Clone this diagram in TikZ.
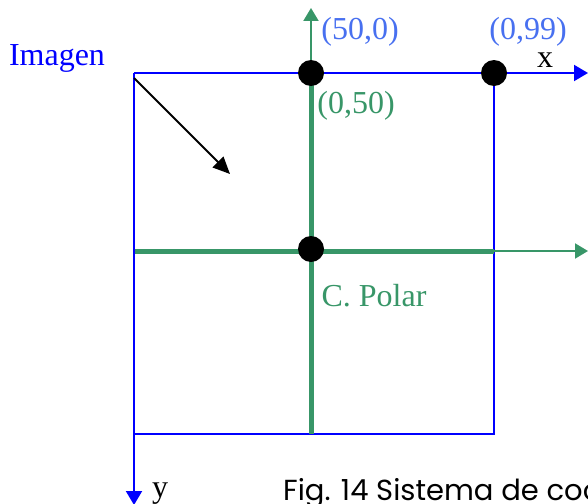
\documentclass[tikz,border=0pt]{standalone}
\usepackage{fontspec}
\setmainfont{Liberation Serif}
\newfontfamily\figfont{Poppins}
\usetikzlibrary{arrows.meta,positioning}
\definecolor{polargreen}{RGB}{56,150,104}
\definecolor{labelblue}{RGB}{72,112,240}
\begin{document}
\begin{tikzpicture}[x=1pt,y=-1pt,
dot/.style={circle,fill=black,inner sep=0pt,minimum size=26pt},
frame/.style={blue,line width=2pt},
axis/.style={blue,line width=2pt,-{Triangle[length=14pt,width=16pt]}},
polar/.style={polargreen,line width=5pt},
polaraxis/.style={polargreen,line width=2pt,-{Triangle[length=13pt,width=15pt]}},
lbl/.style={font=\fontsize{32}{32}\selectfont,inner sep=0pt}]
\path[use as bounding box,clip] (0,0) rectangle (588,503);
% corners of the image
\coordinate (O) at (134,73);
\coordinate (TR) at (494,73);
\coordinate (BL) at (134,434);
\coordinate (BR) at (494,434);
\coordinate (Xend) at (588,73);
\coordinate (Yend) at (134,505);
% polar centre lines
\coordinate (Ptop) at (311,73);
\coordinate (Pbot) at (311,434);
\coordinate (Pleft) at (134,251);
\coordinate (Pright) at (494,251);
\coordinate (Pup) at (311,8);
\coordinate (Pend) at (588,251);
\coordinate (Dir) at (230,174);
\coordinate (Dstart) at (134,78);
\draw[frame] (TR)--(BR)--(BL);
\draw[polar] (Ptop)--(Pbot);
\draw[polar] (Pleft)--(Pright);
\draw[polaraxis] (Ptop)--(Pup);
\draw[polaraxis] (Pright)--(Pend);
\draw[axis] (O)--(Xend);
\draw[axis] (O)--(Yend);
\draw[black,line width=2pt,-{Triangle[length=17pt,width=15pt]}] (Dstart)--(Dir);
\node[dot] (D50) at (Ptop) {};
\node[dot] (D99) at (TR) {};
\node[dot] (Dc) at (311,249) {};
% labels
\node[lbl,blue,anchor=base] (Img) at (57,65) {Imagen};
\node[lbl,labelblue,anchor=base] (L50) at (360,40) {(50,0)};
\node[lbl,labelblue,anchor=base] (L99) at (528,40) {(0,99)};
\node[lbl,anchor=base] (Lx) at (545,67) {x};
\node[lbl,polargreen,anchor=base] (L050) at (356,113) {(0,50)};
\node[lbl,polargreen,anchor=base] (Lcp) at (374,306) {C. Polar};
\node[lbl,anchor=base] (Ly) at (160,497) {y};
\node[anchor=base west,inner sep=0pt,font=\figfont\fontsize{29}{29}\selectfont] (Fig) at (283,500) {Fig. 14 Sistema de coordenadas};
\end{tikzpicture}
\end{document}
